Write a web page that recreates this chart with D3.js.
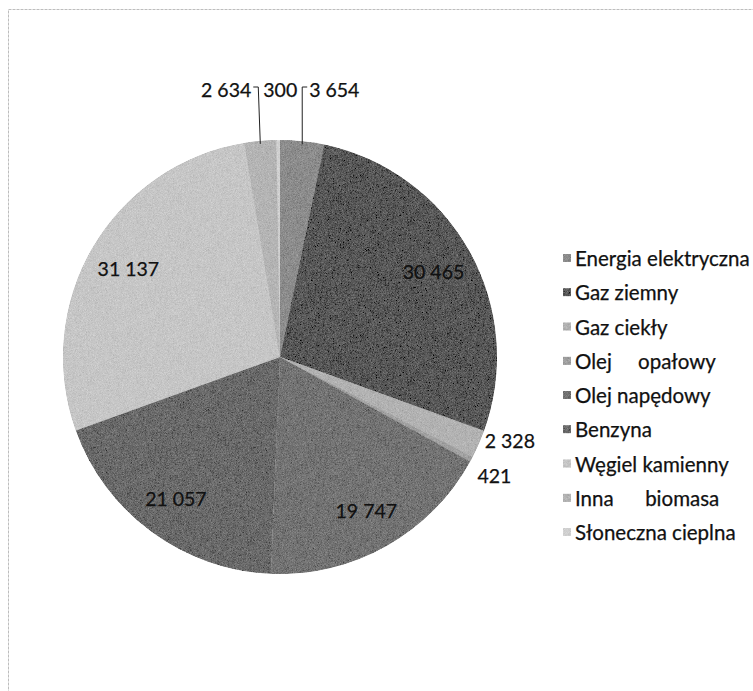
<!DOCTYPE html>
<html>
<head>
<meta charset="utf-8">
<script src="https://cdn.jsdelivr.net/npm/d3@7"></script>
<style>
  html, body { margin: 0; padding: 0; background: #ffffff; }
  svg { display: block; }
  text { font-family: Lato, "Open Sans", sans-serif; fill: #111; stroke: #111; stroke-width: 0.25px; }
</style>
</head>
<body>
<div id="chart"></div>
<script>
// ---- data ----
const categories = [
  "Energia elektryczna",
  "Gaz ziemny",
  "Gaz ciekły",
  "Olej     opałowy",
  "Olej napędowy",
  "Benzyna",
  "Węgiel kamienny",
  "Inna      biomasa",
  "Słoneczna cieplna"
];
const values = [3654, 30465, 2328, 421, 19747, 21057, 31137, 2634, 300];
const colors = ["#8c8c8c", "#585858", "#b2b2b2", "#a0a0a0", "#737373", "#6a6a6a", "#c6c6c6", "#b4b4b4", "#d0d0d0"];

// ---- layout ----
const W = 753, H = 691;
const cx = 280, cy = 357, R = 217;
const labelSize = 19.5;
const legendSize = 20.5;

const svg = d3.select("#chart").append("svg")
  .attr("width", W).attr("height", H);

// grain filter (scanned look)
const defs = svg.append("defs");
const f = defs.append("filter").attr("id", "grain")
  .attr("x", "-5%").attr("y", "-5%").attr("width", "110%").attr("height", "110%");
f.append("feTurbulence").attr("type", "fractalNoise").attr("baseFrequency", 1.6)
  .attr("numOctaves", 2).attr("seed", 3).attr("result", "noise");
f.append("feColorMatrix").attr("in", "noise").attr("type", "matrix")
  .attr("values", "0.33 0.33 0.33 0 0  0.33 0.33 0.33 0 0  0.33 0.33 0.33 0 0  0 0 0 0 1")
  .attr("result", "gnoise");
f.append("feComposite").attr("in", "SourceGraphic").attr("in2", "gnoise")
  .attr("operator", "arithmetic").attr("k1", 0).attr("k2", 1).attr("k3", 0.5).attr("k4", -0.25)
  .attr("result", "mix");
f.append("feComposite").attr("in", "mix").attr("in2", "SourceAlpha").attr("operator", "in");

// frame (scanned border, only top/left visible)
svg.append("rect")
  .attr("x", 8.5).attr("y", 9.5).attr("width", 900).attr("height", 900)
  .attr("fill", "none").attr("stroke", "#bdbdbd").attr("stroke-width", 1)
  .attr("stroke-dasharray", "3,1");

const fmt = d3.formatLocale({ decimal: ",", thousands: " ", grouping: [3], currency: ["", ""] }).format(",d");

const pie = d3.pie().sort(null).value(d => d);
const arcs = pie(values);
const arc = d3.arc().innerRadius(0).outerRadius(R);

const g = svg.append("g").attr("transform", `translate(${cx},${cy})`);
g.append("g").attr("filter", "url(#grain)")
  .selectAll("path").data(arcs).join("path")
  .attr("d", arc)
  .attr("fill", (d, i) => colors[i]);

// ---- data labels ----
const total = d3.sum(values);
const polar = (r, a) => [r * Math.sin(a), -r * Math.cos(a)];
const labelG = g.append("g");

const topLabels = [], sideLabels = [];
arcs.forEach((d, i) => {
  const mid = (d.startAngle + d.endAngle) / 2;
  const frac = d.value / total;
  const t = labelG.append("text")
    .attr("font-size", labelSize)
    .attr("dominant-baseline", "central")
    .text(fmt(d.value));
  if (frac > 0.05) {
    const [x, y] = polar(R * 0.81, mid);
    t.attr("x", x).attr("y", y).attr("text-anchor", "middle");
  } else {
    const edge = polar(R, mid);
    const w = t.node().getComputedTextLength();
    const item = { t, edge, w, mid };
    if (Math.cos(mid) > 0.9) topLabels.push(item); else sideLabels.push(item);
  }
});

// top labels: spread horizontally above the pie
const gap = 12;
topLabels.sort((a, b) => a.edge[0] - b.edge[0]);
topLabels.forEach(o => { o.x = o.edge[0]; });
for (let it = 0; it < 100; it++) {
  for (let k = 1; k < topLabels.length; k++) {
    const a = topLabels[k - 1], b = topLabels[k];
    const need = a.w / 2 + b.w / 2 + gap - (b.x - a.x);
    if (need > 0) { a.x -= need / 2; b.x += need / 2; }
  }
}
const topY = -R - 51;
topLabels.forEach(o => {
  o.t.attr("x", o.x).attr("y", topY).attr("text-anchor", "middle");
  const dx = o.x - o.edge[0];
  if (Math.abs(dx) > 20) {
    const side = dx < 0 ? 1 : -1;
    const x0 = o.x + side * (o.w / 2 + 2);
    const x1 = x0 + side * 5;
    labelG.append("polyline")
      .attr("points", [[x0, topY - 2], [x1, topY - 2], [o.edge[0], o.edge[1] + 3]].map(p => p.join(",")).join(" "))
      .attr("fill", "none").attr("stroke", "#222").attr("stroke-width", 1);
  }
});

// side labels: outside the edge, stacked vertically without overlap
sideLabels.sort((a, b) => a.edge[1] - b.edge[1]);
let prevY = -Infinity;
sideLabels.forEach(o => {
  const y = Math.max(o.edge[1] - 4, prevY + 35);
  prevY = y;
  const right = Math.sin(o.mid) >= 0;
  o.t.attr("x", o.edge[0] + (right ? 6 : -6)).attr("y", y)
    .attr("text-anchor", right ? "start" : "end");
});

// ---- legend ----
const ly = d3.scalePoint().domain(categories).range([258, 532]);
const leg = svg.append("g");
const items = leg.selectAll("g").data(categories).join("g")
  .attr("transform", d => `translate(563,${ly(d)})`);
items.append("rect")
  .attr("x", 0).attr("y", -4).attr("width", 8).attr("height", 8)
  .attr("fill", (d, i) => colors[i])
  .attr("filter", "url(#grain)");
items.append("text")
  .attr("x", 12).attr("y", 0)
  .attr("dominant-baseline", "central")
  .attr("font-size", legendSize)
  .style("white-space", "pre")
  .text(d => d);
</script>
</body>
</html>
